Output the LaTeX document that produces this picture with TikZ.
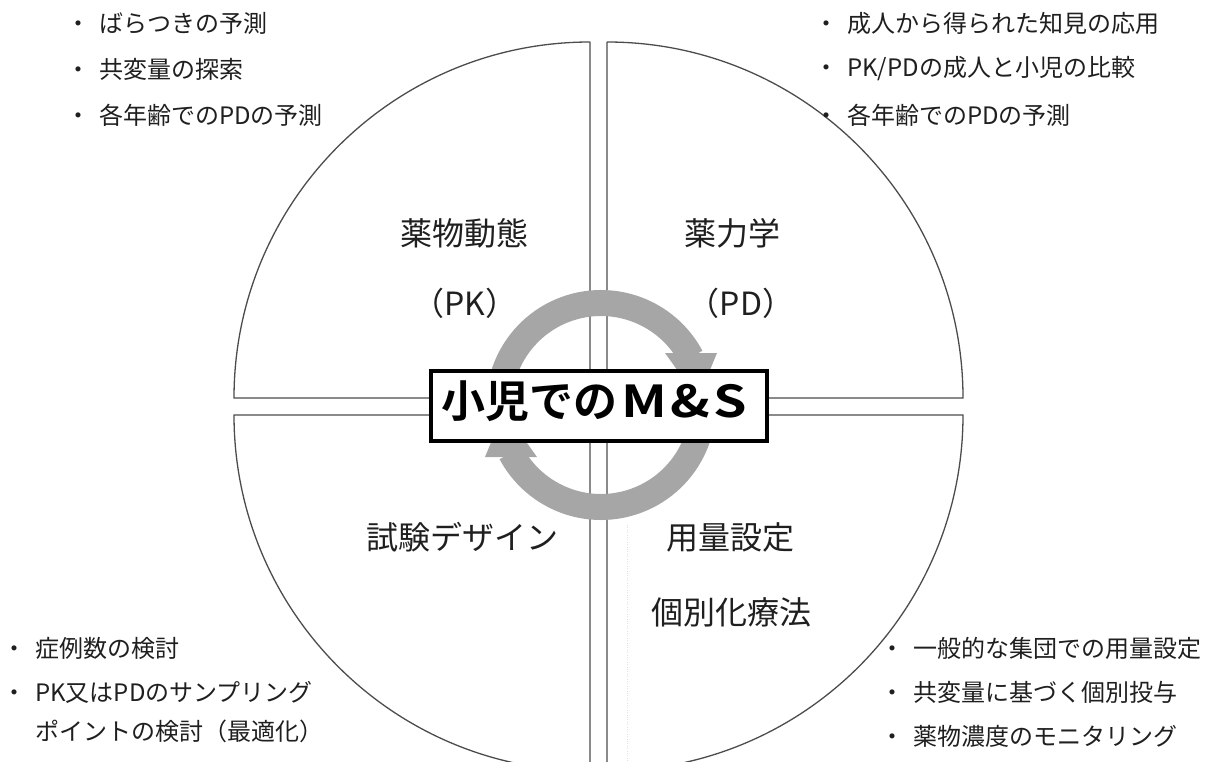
\documentclass[tikz,border=0pt]{standalone}
\usepackage{graphicx}
\usepackage{fontspec}
\setmainfont{Noto Sans CJK JP}
\newfontfamily\jpbox{Noto Sans CJK JP Bold}
\newfontfamily\jpboxls{Noto Sans CJK JP Bold}[LetterSpace=6]
\definecolor{txt}{gray}{0.12}
\definecolor{qline}{gray}{0.3}
\definecolor{ringc}{gray}{0.65}
\newcommand\bulmark{\makebox[24pt]{・}\hspace{9pt}}
\begin{document}
\begin{tikzpicture}[x=1pt,y=-1pt,
  quad/.style={draw=qline, line width=1.3},
  ringarc/.style={draw=ringc, line width=26},
  ringhead/.style={fill=ringc, draw=none},
  lbl/.style={font=\fontsize{32}{32}\selectfont, text=txt, inner sep=0},
  item/.style={font=\fontsize{24}{24}\selectfont, text=txt, inner sep=0, anchor=west},
  msbox/.style={draw=black, line width=4, fill=white, minimum width=336, minimum height=70, inner sep=0},
  mstext/.style={font=\jpbox\fontsize{44}{44}\selectfont, text=black, inner sep=0}
]
\useasboundingbox (0,0) rectangle (1205,762);
\clip (0,0) rectangle (1205,762);

% quadrants
\draw[quad] (590,42) -- (590,398) -- (234,398) arc[start angle=180,end angle=270,radius=356];
\draw[quad] (607,42) -- (607,398) -- (963,398) arc[start angle=0,end angle=-90,radius=356];
\draw[quad] (590,771) -- (590,415) -- (234,415) arc[start angle=180,end angle=90,radius=356];
\draw[quad] (607,771) -- (607,415) -- (963,415) arc[start angle=0,end angle=90,radius=356];
\draw[black!12, dotted] (627,525) -- (627,762);

% cycle arrows
\coordinate (rc) at (601,405);
\draw[ringarc] ([shift={(165:102)}]rc) arc[start angle=165,end angle=332,radius=102];
\fill[ringhead] (665,353) -- (717,353) -- (698,399) -- cycle;
\draw[ringarc] ([shift={(-15:102)}]rc) arc[start angle=-15,end angle=152,radius=102];
\fill[ringhead] (537,457) -- (485,457) -- (504,411) -- cycle;

% center box
\node[msbox] (msb) at (599,406) {};
\node[mstext, anchor=west] (ms) at (441,401) {小児での\hspace{4pt}\scalebox{1.22}[1]{\jpboxls M\&S}};

% quadrant labels
\node[lbl] (pk) at (464,233) {薬物動態};
\node[lbl] (pk2) at (465,303) {（PK）};
\node[lbl] (pd) at (732,233) {薬力学};
\node[lbl] (pd2) at (741,303) {（PD）};
\node[lbl] (td) at (462,537) {試験デザイン};
\node[lbl] (ds) at (730,537) {用量設定};
\node[lbl] (ind) at (731,612) {個別化療法};

% lists
\node[item] (tl1) at (66,23) {\bulmark ばらつきの予測};
\node[item] (tl2) at (66,69) {\bulmark 共変量の探索};
\node[item] (tl3) at (66,115) {\bulmark 各年齢でのPDの予測};

\node[item] (tr1) at (814,23) {\bulmark 成人から得られた知見の応用};
\node[item] (tr2) at (814,69) {\bulmark PK/PDの成人と小児の比較};
\node[item] (tr3) at (814,115) {\bulmark 各年齢でのPDの予測};

\node[item] (bl1) at (2,648) {\bulmark 症例数の検討};
\node[item] (bl2) at (2,692) {\bulmark PK又はPDのサンプリング};
\node[item] (bl3) at (2,731) {\hspace{33pt}ポイントの検討（最適化）};

\node[item] (br1) at (880,648) {\bulmark 一般的な集団での用量設定};
\node[item] (br2) at (880,692) {\bulmark 共変量に基づく個別投与};
\node[item] (br3) at (880,736) {\bulmark 薬物濃度のモニタリング};
\end{tikzpicture}
\end{document}
